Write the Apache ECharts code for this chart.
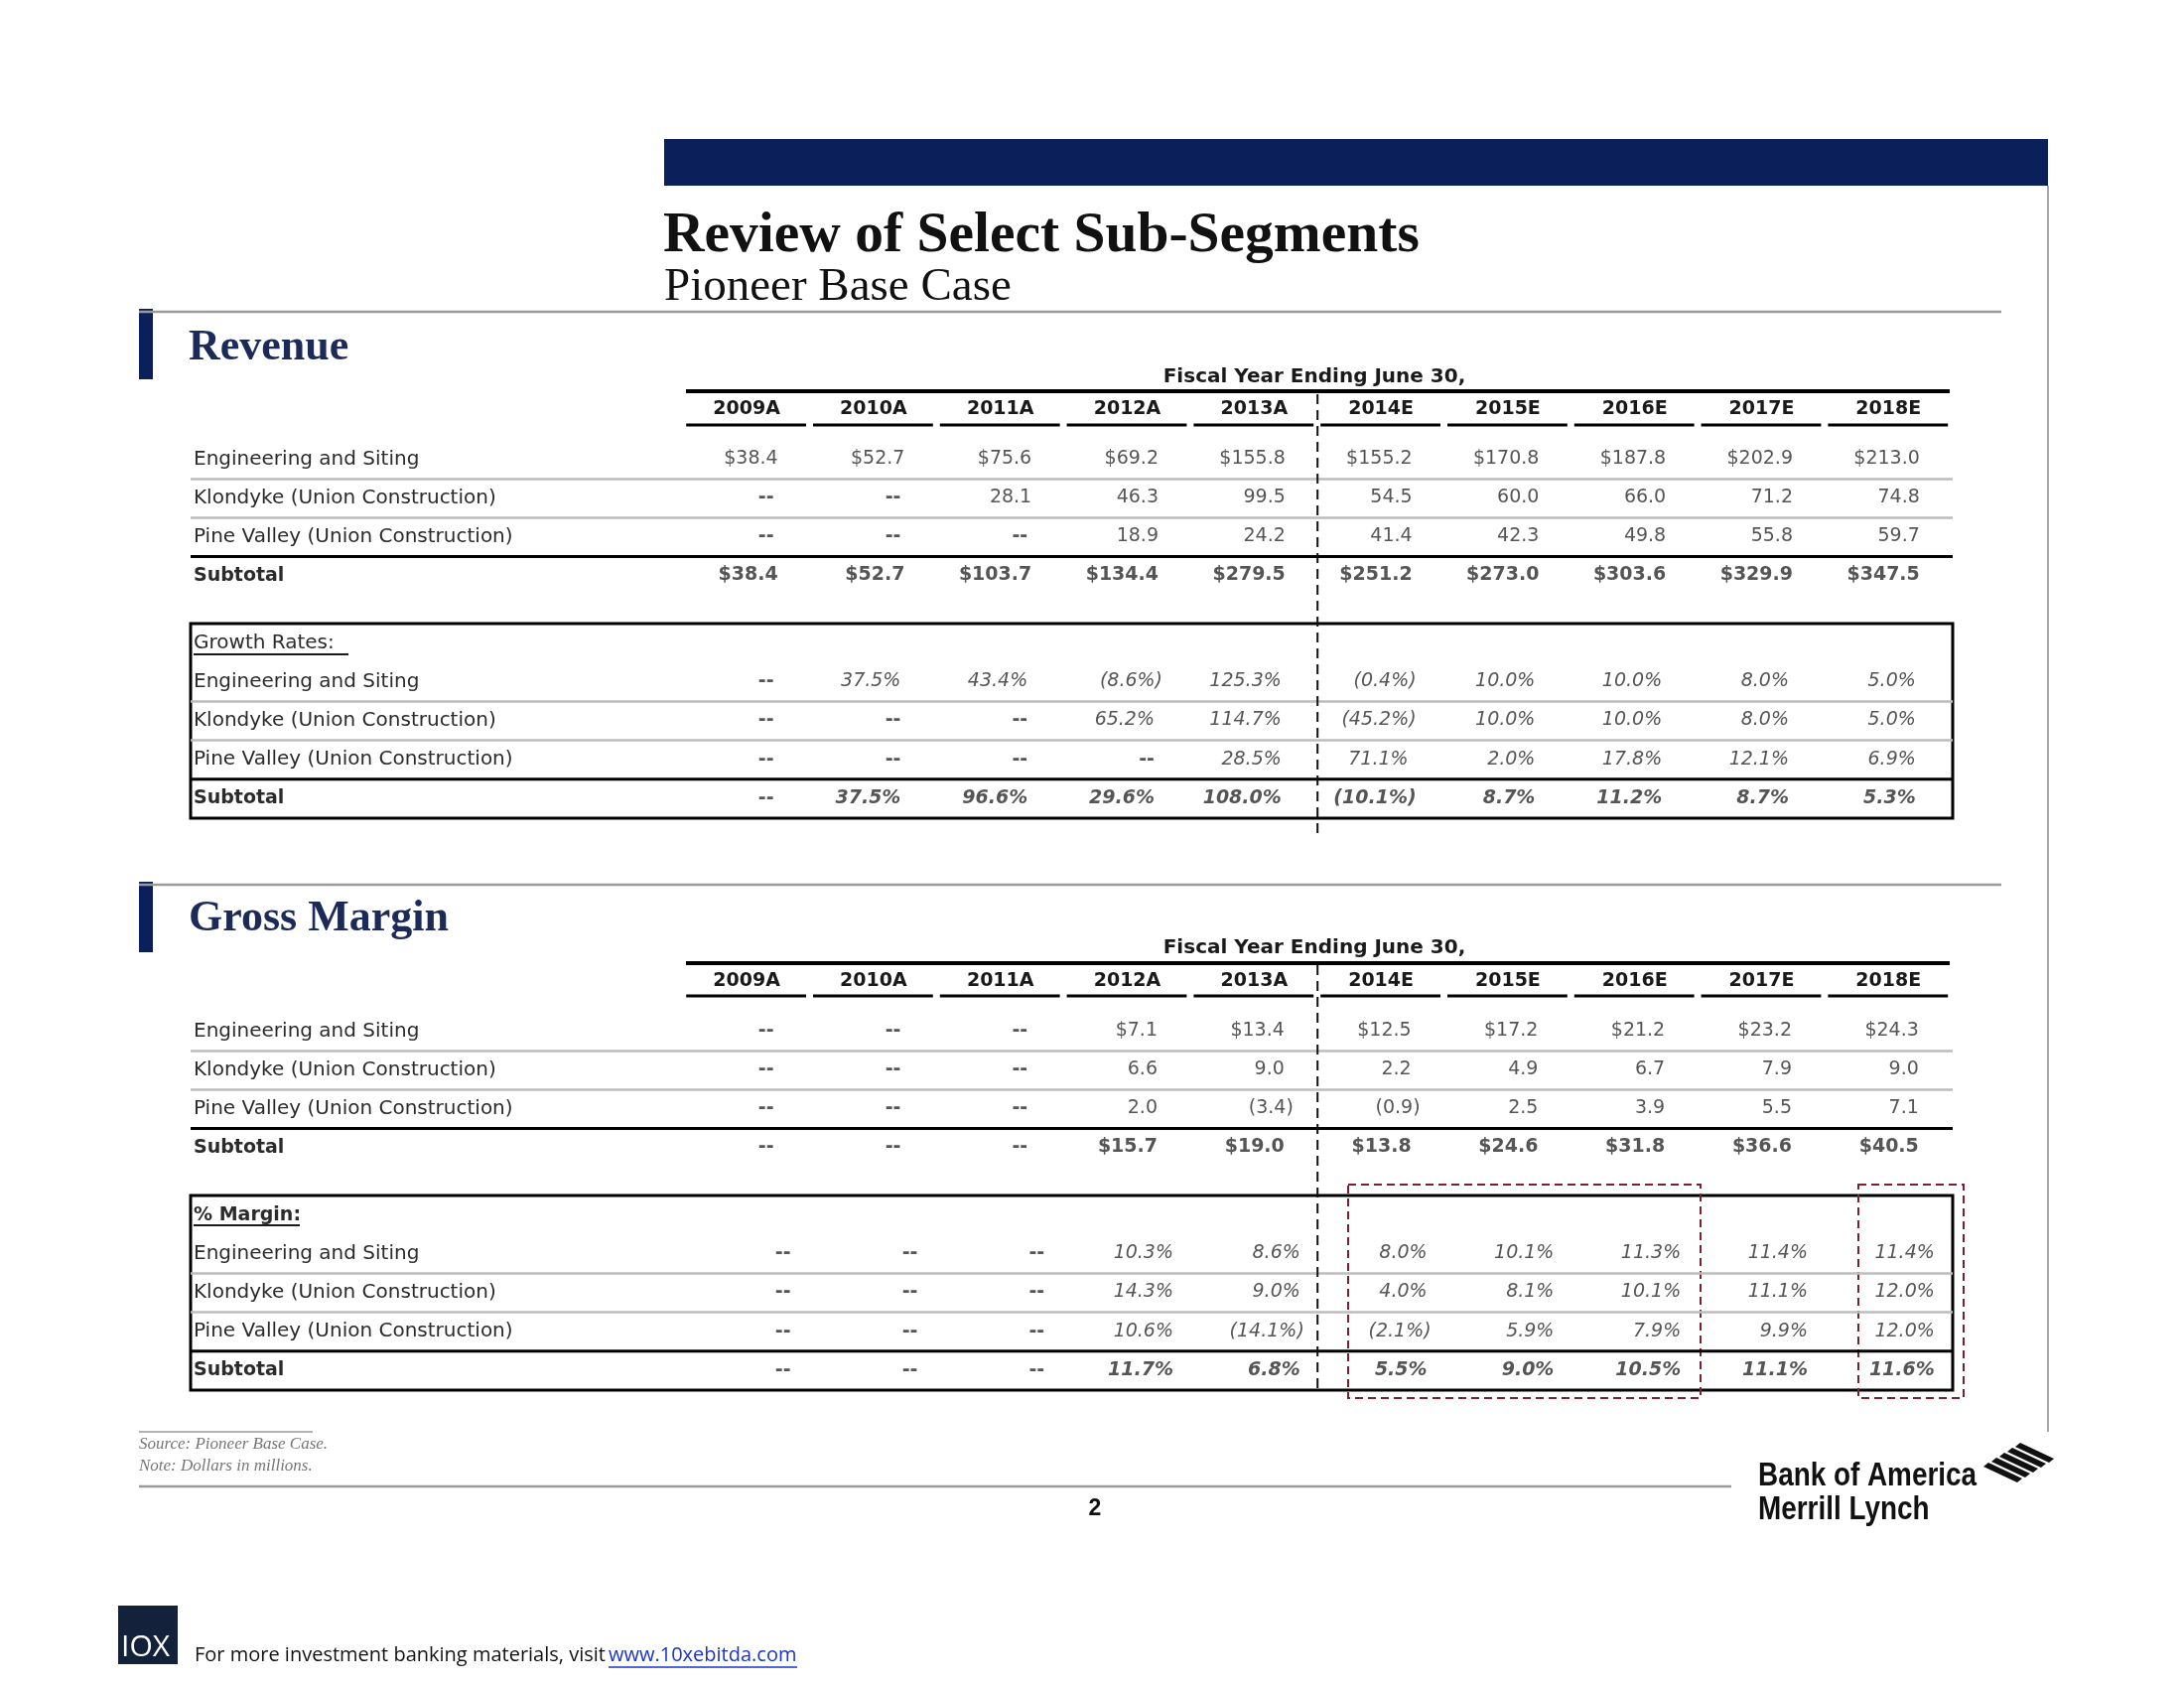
<!DOCTYPE html>
<html><head><meta charset="utf-8">
<script src="https://cdn.jsdelivr.net/npm/echarts@6/dist/echarts.min.js"></script>
<style>html,body{margin:0;padding:0;background:#fff}#c{width:2200px;height:1700px}</style>
</head><body><div id="c"></div>
<script>
// ---------- DATA ----------
const years = ['2009A','2010A','2011A','2012A','2013A','2014E','2015E','2016E','2017E','2018E'];
const rowLabels = ['Engineering and Siting','Klondyke (Union Construction)','Pine Valley (Union Construction)','Subtotal'];

const revEng      = [38.4, 52.7, 75.6, 69.2, 155.8, 155.2, 170.8, 187.8, 202.9, 213.0];
const revKlondyke = [null, null, 28.1, 46.3, 99.5, 54.5, 60.0, 66.0, 71.2, 74.8];
const revPine     = [null, null, null, 18.9, 24.2, 41.4, 42.3, 49.8, 55.8, 59.7];
const revSubtotal = [38.4, 52.7, 103.7, 134.4, 279.5, 251.2, 273.0, 303.6, 329.9, 347.5];

const grEng      = [null, 37.5, 43.4, -8.6, 125.3, -0.4, 10.0, 10.0, 8.0, 5.0];
const grKlondyke = [null, null, null, 65.2, 114.7, -45.2, 10.0, 10.0, 8.0, 5.0];
const grPine     = [null, null, null, null, 28.5, 71.1, 2.0, 17.8, 12.1, 6.9];
const grSubtotal = [null, 37.5, 96.6, 29.6, 108.0, -10.1, 8.7, 11.2, 8.7, 5.3];

const gmEng      = [null, null, null, 7.1, 13.4, 12.5, 17.2, 21.2, 23.2, 24.3];
const gmKlondyke = [null, null, null, 6.6, 9.0, 2.2, 4.9, 6.7, 7.9, 9.0];
const gmPine     = [null, null, null, 2.0, -3.4, -0.9, 2.5, 3.9, 5.5, 7.1];
const gmSubtotal = [null, null, null, 15.7, 19.0, 13.8, 24.6, 31.8, 36.6, 40.5];

const mgEng      = [null, null, null, 10.3, 8.6, 8.0, 10.1, 11.3, 11.4, 11.4];
const mgKlondyke = [null, null, null, 14.3, 9.0, 4.0, 8.1, 10.1, 11.1, 12.0];
const mgPine     = [null, null, null, 10.6, -14.1, -2.1, 5.9, 7.9, 9.9, 12.0];
const mgSubtotal = [null, null, null, 11.7, 6.8, 5.5, 9.0, 10.5, 11.1, 11.6];

// ---------- LAYOUT / STYLE ----------
const FONT = 'DejaVu Sans';
const TXT = '#2b2b2b';
const COL0 = 688.2, BAND = 127.8, GW = BAND * 10;
const LABEL_X = 195;
const G_REV = {top: 443.5, height: 156, rows: rowLabels};
const G_GRO = {top: 628, height: 196, rows: ['Growth Rates:'].concat(rowLabels)};
const G_GM  = {top: 1019.5, height: 156, rows: rowLabels};
const G_MAR = {top: 1204, height: 196, rows: ['% Margin:'].concat(rowLabels)};
const GRIDS = [G_REV, G_GRO, G_GM, G_MAR];

function fmtMoney(v, r, sub) {
  if (v === null) return '--';
  if (v < 0) return '(' + Math.abs(v).toFixed(1) + ')';
  return ((r === 0 || sub) ? '$' : '') + v.toFixed(1);
}
function fmtPct(v) {
  if (v === null) return '--';
  if (v < 0) return '(' + Math.abs(v).toFixed(1) + '%)';
  return v.toFixed(1) + '%';
}

function cells(rows, off, fmt, grid, opt) {
  const data = [];
  rows.forEach((arr, r) => {
    const sub = r === rows.length - 1;
    arr.forEach((v, c) => {
      const neg = v !== null && v < 0;
      const dx = v === null ? opt.dash : (neg ? opt.neg : opt.pos);
      data.push({
        value: [c, r + off],
        txt: fmt(v, r, sub),
        label: {
          position: [dx, 0],
          fontWeight: (v === null || sub) ? 'bold' : 'normal',
          fontStyle: (v !== null && opt.italic) ? 'italic' : 'normal'
        }
      });
    });
  });
  return {
    type: 'scatter', xAxisIndex: grid, yAxisIndex: grid, symbolSize: 1,
    itemStyle: {color: 'rgba(0,0,0,0)'}, silent: true, animation: false, data,
    label: {show: true, formatter: p => p.data.txt, align: 'right', verticalAlign: 'middle',
      fontFamily: FONT, fontSize: 19, color: TXT}
  };
}

const grid = GRIDS.map(g => ({left: COL0, width: GW, top: g.top, height: g.height, containLabel: false}));
const xAxis = GRIDS.map((g, i) => ({
  type: 'category', gridIndex: i, data: years, position: 'top',
  axisLine: {show: false}, axisTick: {show: false}, splitLine: {show: false},
  axisLabel: {show: i === 0 || i === 2, interval: 0, margin: 31.5, verticalAlign: 'middle',
    fontFamily: FONT, fontSize: 19, fontWeight: 'bold', color: '#1a1a1a'}
}));
const yAxis = GRIDS.map((g, i) => ({
  type: 'category', gridIndex: i, data: g.rows, inverse: true,
  axisLine: {show: false}, axisTick: {show: false}, splitLine: {show: false},
  axisLabel: {interval: 0, align: 'left', margin: COL0 - LABEL_X, fontFamily: FONT, fontSize: 20, color: TXT,
    formatter: v => v === 'Subtotal' ? '{b|Subtotal}' : (v === '% Margin:' ? '{b|% Margin:}' : v),
    rich: {b: {fontFamily: FONT, fontSize: 19, fontWeight: 'bold', color: TXT}}}
}));

const series = [
  cells([revEng, revKlondyke, revPine, revSubtotal], 0, fmtMoney, 0, {pos: 32, neg: 40, dash: 28}),
  cells([grEng, grKlondyke, grPine, grSubtotal], 1, fmtPct, 1, {pos: 28, neg: 36, dash: 28, italic: true}),
  cells([gmEng, gmKlondyke, gmPine, gmSubtotal], 0, fmtMoney, 2, {pos: 31, neg: 40, dash: 28}),
  cells([mgEng, mgKlondyke, mgPine, mgSubtotal], 1, fmtPct, 3, {pos: 47, neg: 51, dash: 45, italic: true})
];

// ---------- DECORATION ----------
const G = [];
function line(x1, y1, x2, y2, color, w, dash) {
  G.push({type: 'line', silent: true, z: 5, shape: {x1, y1, x2, y2},
    style: {stroke: color, lineWidth: w, lineDash: dash || null}});
}
function rect(x, y, w, h, style) {
  G.push({type: 'rect', silent: true, z: 4, shape: {x, y, width: w, height: h}, style});
}
function text(x, y, t, font, color, align, valign, extra) {
  G.push(Object.assign({type: 'text', silent: true, z: 6, x, y,
    style: {text: t, font, fill: color, textAlign: align, textVerticalAlign: valign, align: align, verticalAlign: valign}}, extra || {}));
}
const NAVY = '#0b1f5b';
// title bar & title
rect(669, 140, 1394, 47, {fill: NAVY});
text(668, 238, 'Review of Select Sub-Segments', 'bold 57.5px "Liberation Serif"', '#111', 'left', 'middle');
text(669, 290, 'Pioneer Base Case', '47px "Liberation Serif"', '#111', 'left', 'middle');
line(140, 314, 2016, 314, '#9a9a9a', 2.5);
line(2063, 187, 2063, 1442, '#8a8a8a', 1.5);
// section headers
rect(140, 311, 14, 71, {fill: NAVY});
text(190, 351, 'Revenue', 'bold 44px "Liberation Serif"', '#1c2a5a', 'left', 'middle');
line(140, 891, 2016, 891, '#9a9a9a', 2.5);
rect(140, 888, 14, 71, {fill: NAVY});
text(190, 926, 'Gross Margin', 'bold 44px "Liberation Serif"', '#1c2a5a', 'left', 'middle');

function tableHeader(fyY, lineY, ulY) {
  text(1324, fyY, 'Fiscal Year Ending June 30,', 'bold 20px "DejaVu Sans"', '#1a1a1a', 'center', 'middle');
  line(691, lineY, 1964, lineY, '#000', 4);
  for (let i = 0; i < years.length; i++) {
    line(COL0 + i * BAND + 3, ulY, COL0 + (i + 1) * BAND - 4, ulY, '#000', 3);
  }
}
tableHeader(380, 394, 428);
tableHeader(955, 970, 1003);

function separators(g, off) {
  const b = g.height / g.rows.length;
  for (let k = 1 + off; k < g.rows.length; k++) {
    const y = g.top + k * b;
    const last = k === g.rows.length - 1;
    line(192, y, 1967, y, last ? '#000' : '#bdbdbd', last ? 3 : 2.5);
  }
}
separators(G_REV, 0);
separators(G_GRO, 1);
separators(G_GM, 0);
separators(G_MAR, 1);

// boxes
rect(192, G_GRO.top, 1775, G_GRO.height, {fill: 'none', stroke: '#000', lineWidth: 3});
rect(192, G_MAR.top, 1775, G_MAR.height, {fill: 'none', stroke: '#000', lineWidth: 3});
line(195, 659, 351, 659, '#1a1a1a', 1.8);
line(195, 1234, 302, 1234, '#1a1a1a', 1.8);

// actual / estimate divider
const DIV = COL0 + 5 * BAND;
line(DIV, 397, DIV, 840, '#111', 2, [10, 6]);
line(DIV, 972, DIV, 1400, '#111', 2, [10, 6]);

// red highlight boxes
rect(1358, 1193, 355, 215, {fill: 'none', stroke: '#7b2030', lineWidth: 2, lineDash: [8, 5]});
rect(1872, 1193, 106, 215, {fill: 'none', stroke: '#7b2030', lineWidth: 2, lineDash: [8, 5]});

// footnotes
line(140, 1442, 315, 1442, '#9a9a9a', 1.5);
text(140, 1455, 'Source: Pioneer Base Case.', 'italic 17px "Liberation Serif"', '#777', 'left', 'middle');
text(140, 1477, 'Note: Dollars in millions.', 'italic 17px "Liberation Serif"', '#777', 'left', 'middle');
line(140, 1497, 1744, 1497, '#9a9a9a', 2.5);
text(1103, 1520, '2', 'bold 23px "Liberation Sans"', '#111', 'center', 'middle');

// Bank of America Merrill Lynch logo
text(1771, 1487, 'Bank of America', 'bold 34px "Liberation Sans Narrow", "Liberation Sans"', '#111', 'left', 'middle', {scaleX: 0.82, originX: 0, originY: 0});
text(1771, 1521, 'Merrill Lynch', 'bold 34px "Liberation Sans Narrow", "Liberation Sans"', '#111', 'left', 'middle', {scaleX: 0.82, originX: 0, originY: 0});
for (let k = 0; k < 5; k++) {
  const px = 1998 + k * 8, py = 1477 - k * 5;
  G.push({type: 'polygon', silent: true, z: 6,
    shape: {points: [[px, py], [px + 34, py + 16], [px + 39, py + 12], [px + 5, py - 4]]},
    style: {fill: '#111'}});
}

// 10X footer
rect(119, 1617, 60, 59, {fill: '#13213b'});
text(122, 1674, 'IOX', '30px "Open Sans"', '#fff', 'left', 'bottom');
text(196, 1667, 'For more investment banking materials, visit ', '20px "Open Sans"', '#111', 'left', 'middle');
text(613, 1667, 'www.10xebitda.com', '20px "Open Sans"', '#1a33cc', 'left', 'middle');
line(613, 1679, 803, 1679, '#1a33cc', 1.5);

const chart = echarts.init(document.getElementById('c'), null, {renderer: 'canvas'});
chart.setOption({
  animation: false,
  backgroundColor: '#fff',
  grid, xAxis, yAxis, series,
  graphic: {elements: G}
});
</script></body></html>
